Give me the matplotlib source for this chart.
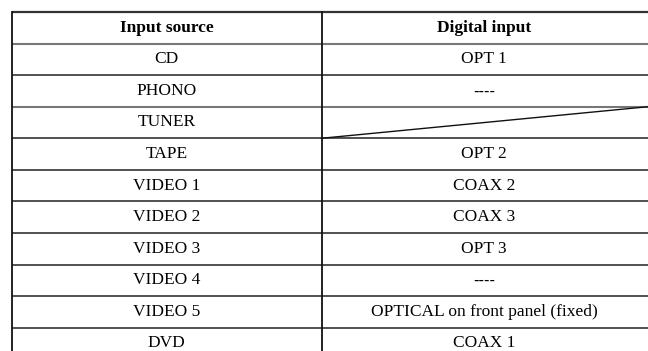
import matplotlib
matplotlib.use('Agg')
import matplotlib.pyplot as plt

# Table content
headers = ['Input source', 'Digital input']
sources = ['CD', 'PHONO', 'TUNER', 'TAPE', 'VIDEO 1', 'VIDEO 2',
           'VIDEO 3', 'VIDEO 4', 'VIDEO 5', 'DVD']
digital = ['OPT 1', '----', None, 'OPT 2', 'COAX 2', 'COAX 3',
           'OPT 3', '----', 'OPTICAL on front panel (fixed)', 'COAX 1']

W, H = 648, 351
fig = plt.figure(figsize=(W / 100, H / 100), dpi=100)
ax = fig.add_axes([0, 0, 1, 1])

# x in pixels, y in row units (row 0 = header)
row_h = 31.57
top = 12.0
ax.set_xlim(0, W)
ax.set_ylim((H - top) / row_h, -top / row_h)
ax.axis('off')

x_left, x_mid, x_right = 11.5, 321.5, 660
c_left = (x_left + x_mid) / 2
c_right = 484

font = dict(family='Liberation Serif', fontsize=12.5, color='black')

n_rows = len(sources) + 1
# horizontal rules (a couple are lighter/thicker in the scan)
gray_rules = {1, 3}
for i in range(n_rows + 1):
    col = '#777777' if i in gray_rules else '#222222'
    lw = 1.5 if i in gray_rules else 1.1
    if i == 0:
        col, lw = '#333333', 1.6
    ax.plot([x_left, x_right], [i, i], color=col, lw=lw, solid_capstyle='butt')
# vertical rules
ax.plot([x_left, x_left], [0, n_rows], color='#111111', lw=1.3)
ax.plot([x_mid, x_mid], [0, n_rows], color='#111111', lw=1.3)

# header
ax.text(c_left, 0.5, headers[0], ha='center', va='center', weight='bold', **font)
ax.text(c_right, 0.5, headers[1], ha='center', va='center', weight='bold', **font)

for i, (s, d) in enumerate(zip(sources, digital)):
    y = i + 1.5
    ax.text(c_left, y, s, ha='center', va='center', **font)
    if d is None:
        # crossed-out cell: diagonal from bottom-left to top-right
        ax.plot([x_mid, W], [i + 2, i + 1], color='#111111', lw=1.0)
    elif set(d) == {'-'}:
        ax.text(c_right, y, d, ha='center', va='center',
                family='DejaVu Sans', fontsize=11, color='black')
    else:
        ax.text(c_right, y, d, ha='center', va='center', **font)

fig.savefig('out.png', dpi=100)
